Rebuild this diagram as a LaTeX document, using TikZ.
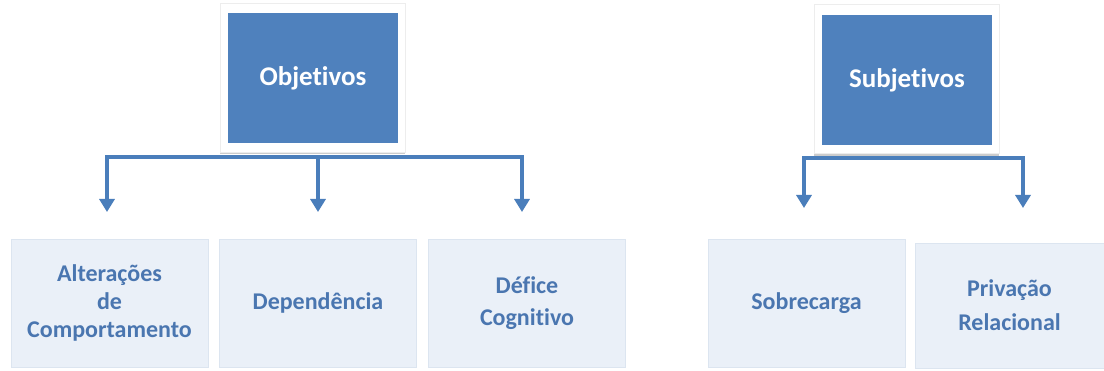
\documentclass[tikz,border=0pt]{standalone}
\usepackage{fontspec}
\setmainfont{Carlito}[Ligatures={NoCommon,NoContextual}]
\usetikzlibrary{arrows.meta,shadows,calc}
\definecolor{topblue}{HTML}{4F81BD}
\definecolor{arrowblue}{HTML}{4A7EBB}
\definecolor{leaffill}{HTML}{EAF0F8}
\definecolor{leafedge}{HTML}{DCE5F0}
\definecolor{leaftext}{HTML}{4A76B0}
\tikzset{
  frame/.style={fill=white, draw=black!7, line width=0.6pt, minimum width=185pt, minimum height=149pt,
    drop shadow={shadow xshift=0pt, shadow yshift=-2.5pt, opacity=0.2, fill=black}},
  topbox/.style={fill=topblue, draw=none, text=white, font=\bfseries\fontsize{27}{31}\selectfont,
    minimum width=170pt, minimum height=130pt, inner sep=0pt},
  leaf/.style={fill=leaffill, draw=leafedge, line width=0.8pt, text=leaftext,
    font=\bfseries\fontsize{24}{28}\selectfont, align=center,
    minimum width=197pt, minimum height=128pt, inner sep=0pt},
  conn/.style={draw=arrowblue, line width=4.5pt,
    arrows={-Triangle[width=15pt,length=13pt]}},
  conn2/.style={draw=arrowblue, line width=4.5pt,
    arrows={Triangle[width=15pt,length=13pt]-Triangle[width=15pt,length=13pt]}}
}
\begin{document}
\begin{tikzpicture}[x=1pt,y=1pt]
\useasboundingbox[fill=white] (0,0) rectangle (1104,370);
% top boxes
\node[frame] (objf) at (312.5,292.5) {};
\node[topbox] (obj) at (313,292) {Objetivos};
\node[frame] (subf) at (906.5,291) {};
\node[topbox] (sub) at (907,289.5) {Subjetivos};
% leaves
\node[leaf] (b1) at (109.5,67) {Alterações\\de\\Comportamento};
\node[leaf] (b2) at (318,67) {Dependência};
\node[leaf, font=\bfseries\fontsize{24}{32}\selectfont] (b3) at (527,67) {Défice\\Cognitivo};
\node[leaf] (b4) at (806.5,66.5) {Sobrecarga};
\node[leaf, minimum width=189pt, minimum height=125pt, font=\bfseries\fontsize{24}{34}\selectfont] (b5) at (1009.5,64.5) {Privação\\Relacional};
% arrow tips and hubs
\coordinate (t1) at (107,158);
\coordinate (t2) at (318,158);
\coordinate (t3) at (522,158);
\coordinate (h1) at (318,213);
\coordinate (t4) at (804,162);
\coordinate (t5) at (1023,162);
\coordinate (h2) at (907,212);
% connectors
\draw[conn2] (t1) |- (h1) -| (t3);
\draw[conn] (h1) -- (t2);
\draw[conn2] (t4) |- (h2) -| (t5);
\end{tikzpicture}
\end{document}
